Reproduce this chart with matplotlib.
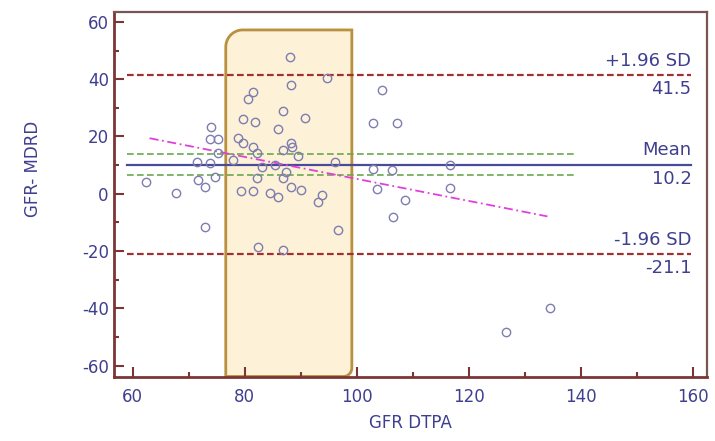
import numpy as np
import matplotlib
matplotlib.use("Agg")
import matplotlib.pyplot as plt
from matplotlib.patches import Polygon
from matplotlib.ticker import MultipleLocator

plt.rcParams["axes.unicode_minus"] = False

# Bland-Altman: GFR DTPA vs (GFR DTPA - GFR MDRD)
gfr_dtpa = [88.0, 88.3, 94.6, 81.5, 80.6, 86.8, 90.7, 79.7, 81.8, 86.0,
            74.0, 73.7, 75.2, 78.8, 79.7, 81.5, 88.3, 88.5, 86.8, 89.5,
            75.2, 82.1, 77.9, 71.4, 73.7, 83.0, 85.4, 87.4, 96.1, 62.4,
            71.7, 72.9, 74.6, 82.1, 86.8, 88.3, 90.1, 67.8, 79.4, 81.5,
            84.5, 86.0, 93.7, 93.1, 102.9, 107.1, 104.4, 102.9, 106.2, 103.5,
            108.6, 106.4, 72.9, 82.4, 86.8, 96.6, 116.6, 116.6, 134.5, 126.6]
diff = [47.9, 38.0, 40.3, 35.6, 33.0, 29.0, 26.5, 26.0, 25.1, 22.5,
        23.4, 19.0, 19.0, 19.3, 17.6, 16.4, 17.6, 16.5, 15.2, 13.1,
        14.1, 14.1, 11.7, 11.1, 10.6, 9.4, 10.0, 7.7, 11.2, 4.2,
        4.8, 2.4, 5.9, 5.4, 5.4, 2.4, 1.3, 0.3, 1.0, 1.0,
        0.1, -1.1, -0.5, -2.8, 24.6, 24.6, 36.2, 8.8, 8.3, 1.5,
        -2.2, -8.1, -11.6, -18.6, -19.7, -12.5, 10.0, 1.9, -39.8, -48.3]

mean_diff = 10.2
upper_loa = 41.5
lower_loa = -21.1
mean_ci = [13.9, 6.4]
reg_x = [63.0, 134.0]
reg_y = [19.4, -7.9]
box_x = [76.6, 99.1]
box_y = [-63.8, 57.2]

navy = "#3f3f8f"
spine_col = "#7b3535"
font = "DejaVu Sans"

fig = plt.figure(figsize=(7.15, 4.41), dpi=100)
ax = fig.add_axes([0.159, 0.145, 0.83, 0.828])
ax.set_xlim(56.6, 162.5)
ax.set_ylim(-64, 63.5)


def rounded_box(x0, x1, y0, y1, rx, ry, rx2, ry2):
    t = np.linspace(np.pi / 2, np.pi, 20)
    tl = np.column_stack([x0 + rx + rx * np.cos(t), y1 - ry + ry * np.sin(t)])
    t2 = np.linspace(1.5 * np.pi, 2 * np.pi, 12)
    br = np.column_stack([x1 - rx2 + rx2 * np.cos(t2), y0 + ry2 + ry2 * np.sin(t2)])
    pts = np.vstack([[[x1, y1]], tl, [[x0, y0]], br])
    return pts


pts = rounded_box(box_x[0], box_x[1], box_y[0], box_y[1], 3.0, 6.0, 1.5, 3.0)
ax.add_patch(Polygon(pts, closed=True, facecolor="#fdf1d8", edgecolor="#b8903e",
                     lw=2, zorder=1))

# limits of agreement and mean
ax.plot([59, 159.7], [upper_loa] * 2, color="#a33030", lw=1.6, ls=(0, (3, 1.5)), zorder=3)
ax.plot([59, 159.7], [lower_loa] * 2, color="#a33030", lw=1.6, ls=(0, (3, 1.5)), zorder=3)
ax.plot([59, 159.7], [mean_diff] * 2, color="#4a4a9a", lw=1.6, zorder=3)
for v in mean_ci:
    ax.plot([59, 139], [v, v], color="#6aa84f", lw=1.2, ls=(0, (4, 2)), zorder=3)
ax.plot(reg_x, reg_y, color="#e040d8", lw=1.3, ls=(0, (5, 2, 1, 2)), zorder=3)

ax.plot(gfr_dtpa, diff, "o", mfc="none", mec="#7d7db0", ms=6, mew=1, zorder=4)

tkw = dict(color=navy, fontsize=13, family=font, ha="right")
ax.text(159.7, upper_loa + 1.8, "+1.96 SD", va="bottom", **tkw)
ax.text(159.7, upper_loa - 1.8, f"{upper_loa}", va="top", **tkw)
ax.text(159.7, mean_diff + 1.8, "Mean", va="bottom", **tkw)
ax.text(159.7, mean_diff - 1.8, f"{mean_diff}", va="top", **tkw)
ax.text(159.7, lower_loa + 1.8, "-1.96 SD", va="bottom", **tkw)
ax.text(159.7, lower_loa - 1.8, f"{lower_loa}", va="top", **tkw)

ax.xaxis.set_major_locator(MultipleLocator(20))
ax.xaxis.set_minor_locator(MultipleLocator(10))
ax.yaxis.set_major_locator(MultipleLocator(20))
ax.yaxis.set_minor_locator(MultipleLocator(10))
ax.set_xticks(range(60, 161, 20))
ax.set_yticks(range(-60, 61, 20))
ax.tick_params(which="both", direction="in", color=spine_col, width=1.5,
               labelcolor=navy, labelsize=12)
ax.tick_params(which="major", length=7)
ax.tick_params(which="minor", length=3.5)
ax.tick_params(axis="x", pad=8)
for lab in ax.get_xticklabels() + ax.get_yticklabels():
    lab.set_family(font)

for side in ["left", "bottom"]:
    ax.spines[side].set_color(spine_col)
    ax.spines[side].set_linewidth(2)
for side in ["top", "right"]:
    ax.spines[side].set_color("#7a5555")
    ax.spines[side].set_linewidth(1.6)

ax.set_xlabel("GFR DTPA", color=navy, fontsize=12, family=font, labelpad=6)
ax.set_ylabel("GFR- MDRD", color=navy, fontsize=12, family=font)
ax.yaxis.set_label_coords(-0.12, 0.57)

fig.savefig("out.png", dpi=100)
